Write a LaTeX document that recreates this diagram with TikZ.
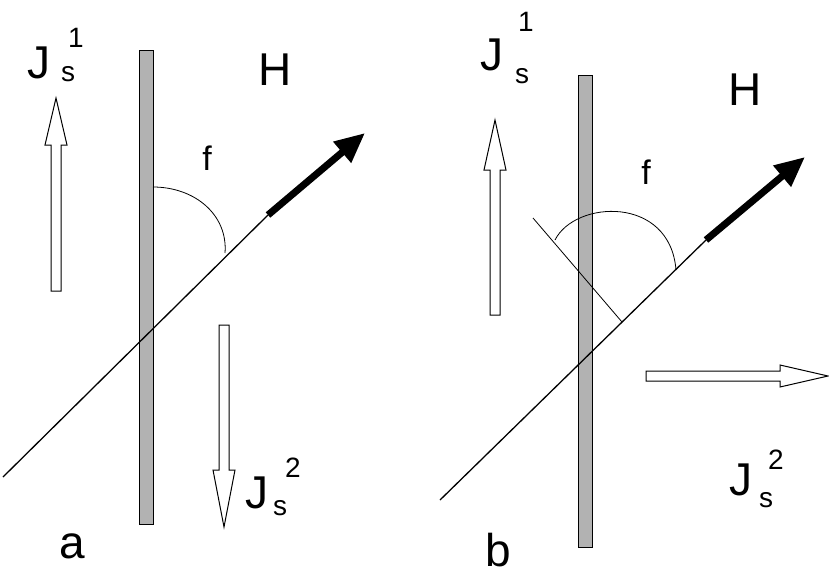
\documentclass[tikz,border=0pt]{standalone}
\usepackage{fontspec}
\setmainfont{Liberation Sans}
\usetikzlibrary{arrows.meta}
\begin{document}
\begin{tikzpicture}[x=1pt,y=-1pt,
  bar/.style={draw=black,fill=black!30,line width=1pt},
  ln/.style={line width=1.3pt},
  thk/.style={line width=7pt,-{Triangle[length=30pt,width=26pt]}},
  hol/.style={draw=black,fill=white,line width=1pt},
  big/.style={font=\fontsize{46}{46}\selectfont,inner sep=0pt},
  sub/.style={font=\fontsize{28}{28}\selectfont,inner sep=0pt},
  mid/.style={font=\fontsize{34}{34}\selectfont,inner sep=0pt}]
\useasboundingbox (0,0) rectangle (829,582);
% panel a
\draw[bar] (139,50) rectangle (153,524);
\coordinate (a1) at (3,477); \coordinate (a2) at (268,215); \coordinate (a3) at (365,133);
\draw[ln] (a1) -- (a2);
\draw[thk] (a2) -- (a3);
\coordinate (fa1) at (153,187); \coordinate (fa2) at (225,253);
\draw[line width=0.8pt] (fa1) .. controls (195,187) and (228,215) .. (fa2);
\draw[hol] (51,291) -- (51,145) -- (45,145) -- (56,98) -- (67,145) -- (61,145) -- (61,291) -- cycle;
\draw[hol] (219,325) -- (219,470) -- (213,470) -- (224,527) -- (235,470) -- (229,470) -- (229,325) -- cycle;
\node[big] (ja) at (39,63) {J};
\node[sub] (sa) at (68,74) {s};
\node[sub] (oa) at (76,38) {1};
\node[big] (ha) at (275,70) {H};
\node[mid] (fa) at (207,158) {f};
\node[big] (j2a) at (257,493) {J};
\node[sub] (s2a) at (280,508) {s};
\node[sub] (t2a) at (293,468) {2};
\node[big] (la) at (72,546) {a};
% panel b
\draw[bar] (578,75) rectangle (592,547);
\coordinate (b1) at (440,500); \coordinate (b2) at (706,240); \coordinate (b3) at (805,157);
\draw[ln] (b1) -- (b2);
\draw[thk] (b2) -- (b3);
\coordinate (p1) at (533,218); \coordinate (p2) at (622,322);
\draw[line width=0.8pt] (p1) -- (p2);
\coordinate (fb1) at (555,240); \coordinate (fb2) at (676,270);
\draw[line width=0.8pt] (fb1) .. controls (575,200) and (670,195) .. (fb2);
\draw[hol] (490,315) -- (490,170) -- (484,170) -- (495,120) -- (506,170) -- (500,170) -- (500,315) -- cycle;
\draw[hol] (646,371) -- (780,371) -- (780,365) -- (828,376) -- (780,387) -- (780,381) -- (646,381) -- cycle;
\node[big] (jb) at (492,55) {J};
\node[sub] (sb) at (522,76) {s};
\node[sub] (ob) at (526,22) {1};
\node[big] (hb) at (745,90) {H};
\node[mid] (fb) at (646,172) {f};
\node[big] (j2b) at (741,480) {J};
\node[sub] (s2b) at (766,500) {s};
\node[sub] (t2b) at (776,460) {2};
\node[big] (lb) at (498,550) {b};
\end{tikzpicture}
\end{document}
